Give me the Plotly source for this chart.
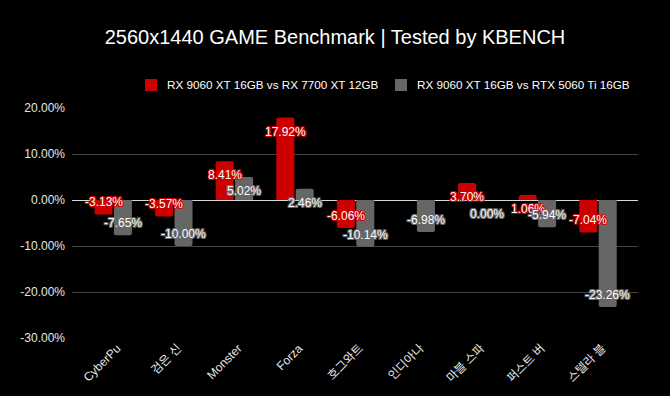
import plotly.graph_objects as go

categories = ["CyberPu", "검은 신", "Monster", "Forza", "호그와트", "인디아나", "마블 스파", "퍼스트 버", "스텔라 블"]
series_names = ["RX 9060 XT 16GB vs RX 7700 XT 12GB", "RX 9060 XT 16GB vs RTX 5060 Ti 16GB"]
vs_7700xt = [-3.13, -3.57, 8.41, 17.92, -6.06, None, 3.70, 1.06, -7.04]
vs_5060ti = [-7.65, -10.00, 5.02, 2.46, -10.14, -6.98, 0.00, -5.94, -23.26]
y_ticks = [20, 10, 0, -10, -20, -30]
y_tick_labels = ["20.00%", "10.00%", "0.00%", "-10.00%", "-20.00%", "-30.00%"]

colors = ["#cc0000", "#666666"]
FONT = "Liberation Sans, Arial, Noto Sans CJK KR, sans-serif"

W, H = 670, 396
ML, MR, MT, MB = 72, 32, 108, 58
PW, PH = W - ML - MR, H - MT - MB


def px_x(p):
    return (p - ML) / PW


def px_y(p):
    return (H - MB - p) / PH


fig = go.Figure()
x_idx = list(range(len(categories)))
for name, vals, col in zip(series_names, [vs_7700xt, vs_5060ti], colors):
    fig.add_trace(go.Bar(x=x_idx, y=vals, name=name,
                         marker=dict(color=col, line=dict(width=0), cornerradius=2),
                         hoverinfo="skip", showlegend=False))

bargap = 0.36
bargroupgap = 0.07
slot = (1 - bargap) / 2
offsets = [-slot / 2, slot / 2]

annotations = []
for s, (vals, col) in enumerate(zip([vs_7700xt, vs_5060ti], colors)):
    shadow = ", ".join(f"{dx}px {dy}px 0 {col}" for dx, dy in
                       [(1, 1), (-1, -1), (1, -1), (-1, 1), (1, 0), (-1, 0), (0, 1), (0, -1)])
    for i, v in enumerate(vals):
        if v is None:
            continue
        pos = v >= 0
        annotations.append(dict(
            x=i + offsets[s], y=v, xref="x", yref="y",
            text=f"{v:.2f}%", showarrow=False,
            yanchor="top" if pos else "bottom",
            yshift=-5 if pos else 3,
            font=dict(family=FONT, size=12, color="#ffffff", shadow=shadow),
        ))

# custom legend (square + label), laid out in pixels
legend_box_left = [145, 395]
legend_text_left = [165, 415]
legend_mid = 85
shapes = []
for name, col, bx, tx in zip(series_names, colors, legend_box_left, legend_text_left):
    shapes.append(dict(type="rect", xref="paper", yref="paper",
                       x0=px_x(bx), x1=px_x(bx + 12), y0=px_y(legend_mid + 6), y1=px_y(legend_mid - 6),
                       fillcolor=col, line=dict(width=0)))
    annotations.append(dict(x=px_x(tx), y=px_y(legend_mid), xref="paper", yref="paper",
                            xanchor="left", yanchor="middle", showarrow=False, text=name,
                            font=dict(family=FONT, size=11.7, color="#ffffff")))

fig.update_layout(
    width=W, height=H,
    paper_bgcolor="#000000", plot_bgcolor="#000000",
    margin=dict(l=ML, r=MR, t=MT, b=MB),
    barmode="group", bargap=bargap, bargroupgap=bargroupgap,
    title=dict(text="2560x1440 GAME Benchmark | Tested by KBENCH", x=0.5, xanchor="center",
               y=1 - 37 / H, yanchor="middle",
               font=dict(family=FONT, size=20, color="#ffffff")),
    font=dict(family=FONT, size=12, color="#e6e6e6"),
    showlegend=False,
    annotations=annotations,
    shapes=shapes,
)
fig.update_xaxes(
    tickmode="array", tickvals=x_idx, ticktext=categories, tickangle=-45,
    range=[-0.68, 8.66], showgrid=False, zeroline=False, showline=False,
    ticklabelshift=4,
    tickfont=dict(family=FONT, size=12, color="#e6e6e6"), fixedrange=True,
)
fig.update_yaxes(
    range=[-30, 20], tickmode="array", tickvals=y_ticks, ticktext=y_tick_labels,
    showgrid=True, gridcolor="#444444", gridwidth=1,
    zeroline=True, zerolinecolor="#d9d9d9", zerolinewidth=1,
    showline=False, ticklabelstandoff=6,
    tickfont=dict(family=FONT, size=12, color="#e6e6e6"), fixedrange=True,
)
fig.write_html("out.html", config={"displayModeBar": False},
               post_script="document.body.style.margin='0';document.body.style.background='#000';")
